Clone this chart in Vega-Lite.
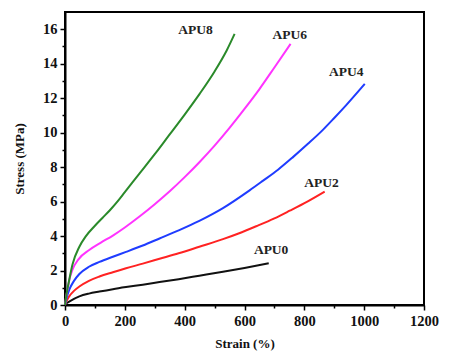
{
  "$schema": "https://vega.github.io/schema/vega-lite/v6.json",
  "width": 359,
  "height": 293,
  "autosize": "none",
  "padding": {"left": 65, "top": 12, "right": 26, "bottom": 51},
  "background": "white",
  "config": {
    "view": {"stroke": "black", "strokeWidth": 2},
    "font": "Liberation Serif"
  },
  "datasets": {
    "curves": [
      {"series": "APU0", "strain": 0, "stress": 0},
      {"series": "APU0", "strain": 5, "stress": 0.1},
      {"series": "APU0", "strain": 14, "stress": 0.2},
      {"series": "APU0", "strain": 30, "stress": 0.36},
      {"series": "APU0", "strain": 48, "stress": 0.5},
      {"series": "APU0", "strain": 80, "stress": 0.66},
      {"series": "APU0", "strain": 115, "stress": 0.78},
      {"series": "APU0", "strain": 160, "stress": 0.92},
      {"series": "APU0", "strain": 204, "stress": 1.04},
      {"series": "APU0", "strain": 260, "stress": 1.18},
      {"series": "APU0", "strain": 316, "stress": 1.33},
      {"series": "APU0", "strain": 380, "stress": 1.5},
      {"series": "APU0", "strain": 449, "stress": 1.7},
      {"series": "APU0", "strain": 528, "stress": 1.93},
      {"series": "APU0", "strain": 600, "stress": 2.15},
      {"series": "APU0", "strain": 681, "stress": 2.42},

      {"series": "APU2", "strain": 0, "stress": 0},
      {"series": "APU2", "strain": 5, "stress": 0.22},
      {"series": "APU2", "strain": 14, "stress": 0.5},
      {"series": "APU2", "strain": 30, "stress": 0.82},
      {"series": "APU2", "strain": 48, "stress": 1.07},
      {"series": "APU2", "strain": 80, "stress": 1.4},
      {"series": "APU2", "strain": 115, "stress": 1.65},
      {"series": "APU2", "strain": 160, "stress": 1.9},
      {"series": "APU2", "strain": 204, "stress": 2.13},
      {"series": "APU2", "strain": 260, "stress": 2.4},
      {"series": "APU2", "strain": 316, "stress": 2.68},
      {"series": "APU2", "strain": 380, "stress": 3.0},
      {"series": "APU2", "strain": 449, "stress": 3.38},
      {"series": "APU2", "strain": 528, "stress": 3.82},
      {"series": "APU2", "strain": 580, "stress": 4.15},
      {"series": "APU2", "strain": 639, "stress": 4.57},
      {"series": "APU2", "strain": 700, "stress": 5.03},
      {"series": "APU2", "strain": 751, "stress": 5.47},
      {"series": "APU2", "strain": 810, "stress": 6.0},
      {"series": "APU2", "strain": 868, "stress": 6.58},

      {"series": "APU4", "strain": 0, "stress": 0},
      {"series": "APU4", "strain": 5, "stress": 0.38},
      {"series": "APU4", "strain": 14, "stress": 0.87},
      {"series": "APU4", "strain": 30, "stress": 1.4},
      {"series": "APU4", "strain": 48, "stress": 1.8},
      {"series": "APU4", "strain": 80, "stress": 2.22},
      {"series": "APU4", "strain": 115, "stress": 2.5},
      {"series": "APU4", "strain": 160, "stress": 2.8},
      {"series": "APU4", "strain": 204, "stress": 3.08},
      {"series": "APU4", "strain": 260, "stress": 3.45},
      {"series": "APU4", "strain": 316, "stress": 3.86},
      {"series": "APU4", "strain": 380, "stress": 4.33},
      {"series": "APU4", "strain": 449, "stress": 4.88},
      {"series": "APU4", "strain": 528, "stress": 5.62},
      {"series": "APU4", "strain": 617, "stress": 6.65},
      {"series": "APU4", "strain": 661, "stress": 7.2},
      {"series": "APU4", "strain": 712, "stress": 7.85},
      {"series": "APU4", "strain": 762, "stress": 8.58},
      {"series": "APU4", "strain": 812, "stress": 9.35},
      {"series": "APU4", "strain": 862, "stress": 10.16},
      {"series": "APU4", "strain": 900, "stress": 10.85},
      {"series": "APU4", "strain": 940, "stress": 11.6},
      {"series": "APU4", "strain": 1002, "stress": 12.83},

      {"series": "APU6", "strain": 0, "stress": 0},
      {"series": "APU6", "strain": 4, "stress": 0.5},
      {"series": "APU6", "strain": 9, "stress": 0.95},
      {"series": "APU6", "strain": 15, "stress": 1.5},
      {"series": "APU6", "strain": 25, "stress": 2.05},
      {"series": "APU6", "strain": 45, "stress": 2.65},
      {"series": "APU6", "strain": 81, "stress": 3.19},
      {"series": "APU6", "strain": 120, "stress": 3.62},
      {"series": "APU6", "strain": 160, "stress": 4.03},
      {"series": "APU6", "strain": 200, "stress": 4.5},
      {"series": "APU6", "strain": 250, "stress": 5.15},
      {"series": "APU6", "strain": 300, "stress": 5.85},
      {"series": "APU6", "strain": 350, "stress": 6.6},
      {"series": "APU6", "strain": 400, "stress": 7.42},
      {"series": "APU6", "strain": 450, "stress": 8.3},
      {"series": "APU6", "strain": 500, "stress": 9.25},
      {"series": "APU6", "strain": 550, "stress": 10.28},
      {"series": "APU6", "strain": 600, "stress": 11.38},
      {"series": "APU6", "strain": 650, "stress": 12.53},
      {"series": "APU6", "strain": 700, "stress": 13.78},
      {"series": "APU6", "strain": 754, "stress": 15.15},

      {"series": "APU8", "strain": 0, "stress": 0},
      {"series": "APU8", "strain": 5, "stress": 0.6},
      {"series": "APU8", "strain": 10, "stress": 1.1},
      {"series": "APU8", "strain": 14, "stress": 1.45},
      {"series": "APU8", "strain": 25, "stress": 2.35},
      {"series": "APU8", "strain": 48, "stress": 3.38},
      {"series": "APU8", "strain": 70, "stress": 4.0},
      {"series": "APU8", "strain": 100, "stress": 4.6},
      {"series": "APU8", "strain": 125, "stress": 5.05},
      {"series": "APU8", "strain": 150, "stress": 5.5},
      {"series": "APU8", "strain": 175, "stress": 6.0},
      {"series": "APU8", "strain": 200, "stress": 6.55},
      {"series": "APU8", "strain": 250, "stress": 7.65},
      {"series": "APU8", "strain": 300, "stress": 8.75},
      {"series": "APU8", "strain": 350, "stress": 9.9},
      {"series": "APU8", "strain": 400, "stress": 11.05},
      {"series": "APU8", "strain": 450, "stress": 12.25},
      {"series": "APU8", "strain": 500, "stress": 13.55},
      {"series": "APU8", "strain": 540, "stress": 14.75},
      {"series": "APU8", "strain": 567, "stress": 15.73}
    ],
    "labels": [
      {"series": "APU0", "strain": 689, "stress": 3.19},
      {"series": "APU2", "strain": 857, "stress": 7.06},
      {"series": "APU4", "strain": 940, "stress": 13.54},
      {"series": "APU6", "strain": 751, "stress": 15.67},
      {"series": "APU8", "strain": 436, "stress": 15.96}
    ]
  },
  "resolve": {"axis": {"x": "independent", "y": "independent"}},
  "layer": [
    {
      "data": {"name": "curves"},
      "mark": {"type": "line", "strokeWidth": 2, "interpolate": "monotone"},
      "encoding": {
        "x": {
          "field": "strain", "type": "quantitative",
          "scale": {"domain": [0, 1200], "nice": false},
          "axis": {
            "orient": "bottom",
            "title": "Strain (%)",
            "values": [0,200,400,600,800,1000,1200],
            "format": "d",
            "grid": false,
            "labelOverlap": false,
            "domainColor": "black", "domainWidth": 2,
            "tickColor": "black", "tickWidth": 1.5, "tickSize": 5,
            "labelFont": "Liberation Serif", "labelFontWeight": "bold", "labelFontSize": 14.5, "labelColor": "#111111",
            "labelPadding": 4, "labelFlush": false,
            "titleFont": "Liberation Serif", "titleFontWeight": "bold", "titleFontSize": 13, "titleColor": "#111111",
            "titlePadding": 10
          }
        },
        "y": {
          "field": "stress", "type": "quantitative",
          "scale": {"domain": [0, 17], "nice": false},
          "axis": {
            "orient": "left",
            "title": "Stress (MPa)",
            "values": [0,2,4,6,8,10,12,14,16],
            "grid": false,
            "labelOverlap": false,
            "domainColor": "black", "domainWidth": 2,
            "tickColor": "black", "tickWidth": 1.5, "tickSize": 5,
            "labelFont": "Liberation Serif", "labelFontWeight": "bold", "labelFontSize": 14.5, "labelColor": "#111111",
            "labelPadding": 3,
            "labelFlush": false,
            "titleFont": "Liberation Serif", "titleFontWeight": "bold", "titleFontSize": 13, "titleColor": "#111111",
            "titlePadding": 16
          }
        },
        "color": {
          "field": "series", "type": "nominal",
          "scale": {"domain": ["APU0", "APU2", "APU4", "APU6", "APU8"], "range": ["#111111", "#ff2222", "#1f3cff", "#ff33ff", "#2a8a2a"]},
          "legend": null
        },
        "detail": {"field": "series"}
      }
    },
    {
      "data": {"name": "labels"},
      "mark": {"type": "text", "font": "Liberation Serif", "fontWeight": "bold", "fontSize": 13.5, "color": "#222222", "align": "center", "baseline": "middle"},
      "encoding": {
        "x": {
          "field": "strain", "type": "quantitative",
          "axis": {
            "orient": "bottom", "title": null, "labels": false, "domain": false, "grid": false,
            "values": [100,300,500,700,900,1100],
            "tickColor": "black", "tickWidth": 1.5, "tickSize": 3
          }
        },
        "y": {
          "field": "stress", "type": "quantitative",
          "axis": {
            "orient": "left", "title": null, "labels": false, "domain": false, "grid": false,
            "values": [1,3,5,7,9,11,13,15],
            "tickColor": "black", "tickWidth": 1.5, "tickSize": 3
          }
        },
        "text": {"field": "series"}
      }
    }
  ]
}
